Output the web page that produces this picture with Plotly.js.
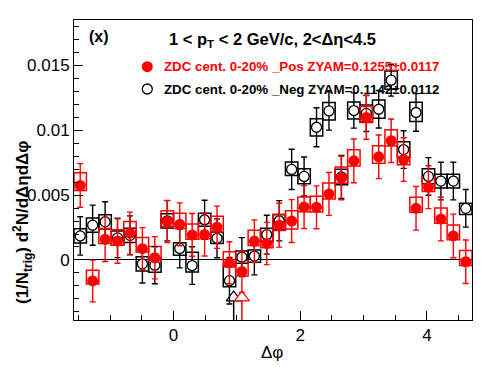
<!DOCTYPE html>
<html>
<head>
<meta charset="utf-8">
<script src="https://cdn.plot.ly/plotly-3.0.1.min.js"></script>
<style>html,body{margin:0;padding:0;background:#fff;}#chart{width:496px;height:374px;}</style>
</head>
<body>
<div id="chart"></div>
<script>
// Delta-phi bin centres (32 bins over [-pi/2, 3pi/2])
const dphi = [-1.4726,-1.2763,-1.0799,-0.8836,-0.6872,-0.4909,-0.2945,-0.0982,
  0.0982,0.2945,0.4909,0.6872,0.8836,1.0799,1.2763,1.4726,
  1.6690,1.8653,2.0617,2.2580,2.4544,2.6507,2.8471,3.0434,
  3.2398,3.4361,3.6325,3.8288,4.0252,4.2215,4.4179,4.6142];
const binWidth = 0.19635;

// ZDC cent. 0-20% _Pos (red)
const posY = [0.00574,-0.00162,0.00159,0.00146,0.00206,0.00087,0.00017,0.00297,
  0.00275,0.00193,0.00196,0.00252,-0.00022,-0.00090,0.00144,0.00127,
  0.00268,0.00300,0.00408,0.00406,0.00509,0.00632,0.00764,0.01099,
  0.00795,0.00919,0.00774,0.00398,0.00561,0.00315,0.00185,-0.00014];
const posErr = [0.00169,0.00161,0.00171,0.00171,0.00163,0.00162,0.00163,0.00162,
  0.00165,0.00165,0.00165,0.00163,0.00162,0.00160,0.00165,0.00163,
  0.00169,0.00165,0.00165,0.00165,0.00165,0.00168,0.00169,0.00168,
  0.00168,0.00168,0.00168,0.00168,0.00165,0.00168,0.00168,0.00168];
const posSysUp = [0.00099,0.00082,0.00083,0.00086,0.00091,0.00086,0.00086,0.00082,
  0.00085,0.00085,0.00085,0.00085,0.00085,0.00085,0.00085,0.00085,
  0.00085,0.00080,0.00078,0.00085,0.00085,0.00085,0.00085,0.00085,
  0.00086,0.00085,0.00085,0.00086,0.00085,0.00085,0.00085,0.00086];
const posSysDn = [0.00039,0.00023,0.00033,0.00033,0.00033,0.00026,0.00019,0.00039,
  0.00033,0.00033,0.00033,0.00033,0.00033,0.00033,0.00033,0.00033,
  0.00040,0.00062,0.00036,0.00036,0.00040,0.00040,0.00040,0.00040,
  0.00049,0.00040,0.00040,0.00031,0.00033,0.00033,0.00030,0.00029];

// ZDC cent. 0-20% _Neg (black)
const negY = [0.00185,0.00268,0.00294,0.00170,0.00190,-0.00030,-0.00040,0.00302,
  0.00089,-0.00043,0.00310,0.00167,-0.00160,0.00022,0.00030,0.00195,
  0.00302,0.00698,0.00644,0.01023,0.01149,0.00640,0.01152,0.01130,
  0.01162,0.01386,0.00851,0.01137,0.00644,0.00608,0.00608,0.00398];
const negErr = [0.00148,0.00155,0.00155,0.00152,0.00150,0.00148,0.00143,0.00155,
  0.00150,0.00145,0.00150,0.00150,0.00180,0.00150,0.00145,0.00150,
  0.00155,0.00155,0.00150,0.00150,0.00148,0.00166,0.00136,0.00140,
  0.00145,0.00123,0.00145,0.00145,0.00145,0.00145,0.00145,0.00145];
const negSysUp = [0.00055,0.00055,0.00055,0.00054,0.00055,0.00055,0.00055,0.00055,
  0.00044,0.00103,0.00050,0.00049,0.00117,0.00047,0.00047,0.00050,
  0.00047,0.00058,0.00060,0.00065,0.00065,0.00060,0.00065,0.00065,
  0.00072,0.00070,0.00060,0.00078,0.00060,0.00052,0.00052,0.00039];
const negSysDn = [0.00055,0.00055,0.00055,0.00057,0.00055,0.00055,0.00055,0.00055,
  0.00052,0.00049,0.00051,0.00041,0.00047,0.00047,0.00047,0.00050,
  0.00065,0.00047,0.00057,0.00068,0.00070,0.00060,0.00065,0.00065,
  0.00070,0.00070,0.00060,0.00070,0.00057,0.00053,0.00053,0.00047];

// off-scale indicators (open triangles)
const negArrowX = [0.95], negArrowY = [-0.0029];
const posArrowX = [1.08], posArrowY = [-0.0029];

const FONT = 'Liberation Sans, Arial, Helvetica, sans-serif';
const RED = '#ff0000';

function boxTrace(y, up, dn, color) {
  return {
    type: 'bar', x: dphi,
    y: y.map((v, i) => up[i] + dn[i]),
    base: y.map((v, i) => v - dn[i]),
    width: binWidth,
    marker: {color: 'rgba(0,0,0,0)', line: {color: color, width: 1.5}},
    showlegend: false, hoverinfo: 'skip'
  };
}

const data = [
  boxTrace(negY, negSysUp, negSysDn, '#000000'),
  boxTrace(posY, posSysUp, posSysDn, RED),
  {
    type: 'scatter', mode: 'markers', x: negArrowX, y: negArrowY,
    marker: {symbol: 'triangle-up', size: 13, color: '#ffffff', line: {color: '#000', width: 1.2}},
    error_y: {type: 'data', symmetric: false, array: [0], arrayminus: [0.004], color: '#000', thickness: 1.5, width: 0},
    showlegend: false, hoverinfo: 'skip'
  },
  {
    type: 'scatter', mode: 'markers', x: posArrowX, y: posArrowY,
    marker: {symbol: 'triangle-up', size: 13, color: '#ffffff', line: {color: RED, width: 1.2}},
    error_y: {type: 'data', symmetric: false, array: [0], arrayminus: [0.004], color: RED, thickness: 1.5, width: 0},
    showlegend: false, hoverinfo: 'skip'
  },
  {
    type: 'scatter', mode: 'markers', x: dphi, y: negY,
    marker: {symbol: 'circle', size: 10, color: '#ffffff', line: {color: '#000', width: 1.3}},
    error_y: {type: 'data', array: negErr, color: '#000', thickness: 1.4, width: 3},
    showlegend: false, hoverinfo: 'skip'
  },
  {
    type: 'scatter', mode: 'markers', x: dphi, y: posY,
    marker: {symbol: 'circle', size: 11, color: RED, line: {width: 0}},
    error_y: {type: 'data', array: posErr, color: RED, thickness: 1.4, width: 3},
    showlegend: false, hoverinfo: 'skip'
  }
];

function px(X) { return (X - 74) / 398; }
function py(Y) { return (320 - Y) / 300; }

const layout = {
  width: 496, height: 374,
  margin: {l: 74, r: 24, t: 20, b: 54, pad: 0},
  paper_bgcolor: '#ffffff', plot_bgcolor: '#ffffff',
  barmode: 'overlay', bargap: 0,
  showlegend: false, hovermode: false,
  font: {family: FONT, color: '#000'},
  xaxis: {
    range: [-1.5708, 4.7124], showgrid: false, zeroline: false,
    showline: true, mirror: true, linecolor: '#000', linewidth: 1,
    ticks: 'inside', ticklen: 9, tickwidth: 1, tickcolor: '#000',
    tick0: 0, dtick: 2,
    minor: {ticks: 'inside', dtick: 0.5, ticklen: 5, tickcolor: '#000', showgrid: false},
    tickfont: {family: FONT, size: 17, color: '#000'}
  },
  yaxis: {
    range: [-0.00463, 0.0185], showgrid: false,
    zeroline: true, zerolinecolor: '#000', zerolinewidth: 1,
    showline: true, mirror: true, linecolor: '#000', linewidth: 1,
    ticks: 'inside', ticklen: 9, tickwidth: 1, tickcolor: '#000',
    tick0: 0, dtick: 0.005,
    minor: {ticks: 'inside', dtick: 0.001, ticklen: 5, tickcolor: '#000', showgrid: false},
    tickfont: {family: FONT, size: 17, color: '#000'}
  },
  shapes: [
    {type: 'circle', xref: 'paper', yref: 'paper', xsizemode: 'pixel', ysizemode: 'pixel',
     xanchor: px(147.3), yanchor: py(66.7), x0: -5.5, x1: 5.5, y0: -5.5, y1: 5.5,
     fillcolor: RED, line: {width: 0}},
    {type: 'circle', xref: 'paper', yref: 'paper', xsizemode: 'pixel', ysizemode: 'pixel',
     xanchor: px(147.3), yanchor: py(89), x0: -5, x1: 5, y0: -5, y1: 5,
     fillcolor: '#fff', line: {color: '#000', width: 1.3}}
  ],
  annotations: [
    {xref: 'paper', yref: 'paper', x: px(98.5), y: py(37), xanchor: 'center', yanchor: 'middle',
     text: '<b>(x)</b>', showarrow: false, font: {family: FONT, size: 16, color: '#000'}},
    {xref: 'paper', yref: 'paper', x: px(166.5), y: py(40), xanchor: 'left', yanchor: 'middle',
     text: '<b>1 &lt; p<sub>T</sub> &lt; 2 GeV/c, 2&lt;Δη&lt;4.5</b>', showarrow: false,
     font: {family: FONT, size: 16.5, color: '#000'}},
    {xref: 'paper', yref: 'paper', x: px(161.5), y: py(67), xanchor: 'left', yanchor: 'middle',
     text: '<b>ZDC cent. 0-20% _Pos ZYAM=0.1255±0.0117</b>', showarrow: false,
     font: {family: FONT, size: 13.3, color: RED}},
    {xref: 'paper', yref: 'paper', x: px(161.5), y: py(89), xanchor: 'left', yanchor: 'middle',
     text: '<b>ZDC cent. 0-20% _Neg ZYAM=0.1142±0.0112</b>', showarrow: false,
     font: {family: FONT, size: 13.3, color: '#000'}},
    {xref: 'paper', yref: 'paper', x: px(22), y: py(222), xanchor: 'center', yanchor: 'middle',
     textangle: -90, text: '<b>(1/N<sub>trig</sub>) d<sup>2</sup>N/dΔηdΔφ</b>', showarrow: false,
     font: {family: FONT, size: 17, color: '#000'}},
    {xref: 'paper', yref: 'paper', x: px(272), y: py(352), xanchor: 'center', yanchor: 'middle',
     text: 'Δφ', showarrow: false, font: {family: FONT, size: 17, color: '#000'}}
  ]
};

Plotly.newPlot('chart', data, layout, {staticPlot: true, displayModeBar: false});
</script>
</body>
</html>
